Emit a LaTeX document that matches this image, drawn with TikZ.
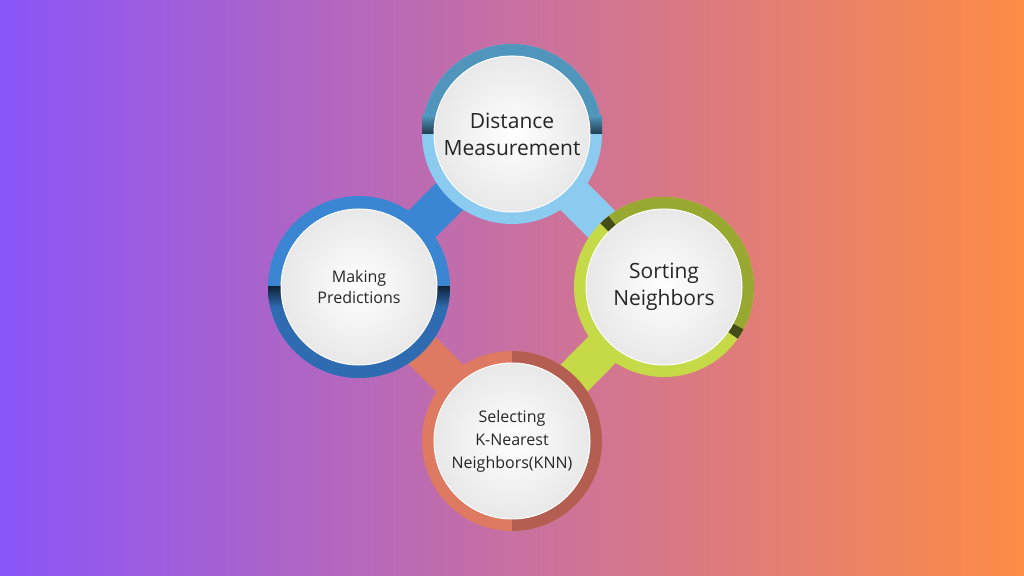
\documentclass[tikz,border=0pt]{standalone}
\usepackage{fontspec}
\setmainfont{Open Sans}
\definecolor{bgL}{HTML}{8A55F8}
\definecolor{bgM}{HTML}{C870A2}
\definecolor{bgR}{HTML}{FD8C46}
\definecolor{tA}{HTML}{4F95BC}
\definecolor{tB}{HTML}{8CCBF0}
\definecolor{lA}{HTML}{3A86D2}
\definecolor{lB}{HTML}{2E6BB0}
\definecolor{gA}{HTML}{C6DA48}
\definecolor{gB}{HTML}{98A830}
\definecolor{oA}{HTML}{DE7A62}
\definecolor{oB}{HTML}{B35E50}
\tikzset{
  band/.style={line width=38pt},
  disc/.style={circle,minimum size=156pt,inner sep=0pt,align=center,
    inner color=white,outer color=black!9,draw=white,line width=1pt,text=black!85},
  big/.style={font=\fontsize{21}{27}\selectfont},
  small/.style={font=\fontsize{16}{21}\selectfont}
}
\begin{document}
\begin{tikzpicture}[x=1pt,y=1pt]
\useasboundingbox (0,0) rectangle (1024,575);
\shade[left color=bgL,right color=bgR,middle color=bgM] (0,0) rectangle (1024,575);
\coordinate (T) at (512,441);
\coordinate (L) at (359,288);
\coordinate (R) at (664,288);
\coordinate (B) at (512,134);
% connectors
\draw[band,lA] (T) -- (L);
\draw[band,tB] (T) -- (R);
\draw[band,gA] (R) -- (B);
\draw[band,oA] (B) -- (L);
% top ring
\fill[tB] (T) circle (90);
\fill[tA] (T) -- ++(0:90) arc (0:180:90) -- cycle;
\begin{scope}
\clip (T) ++(-90,0) rectangle ++(180,18);
\shade[top color=tA,bottom color=tA!40!black] (T) ++(-90,0) rectangle ++(180,18);
\end{scope}
% left ring
\fill[lA] (L) circle (91);
\fill[lB] (L) -- ++(0:91) arc (0:-180:91) -- cycle;
\begin{scope}
\clip (L) circle (91);
\shade[bottom color=lB,top color=lB!35!black] (L) ++(-91,-20) rectangle ++(182,20);
\end{scope}
% right ring
\fill[gA] (R) circle (90);
\fill[gB] (R) -- ++(135:90) arc (135:-35:90) -- cycle;
\fill[gB!45!black] (R) -- ++(135:90) arc (135:128:90) -- cycle;
\fill[gB!45!black] (R) -- ++(-28:90) arc (-28:-35:90) -- cycle;
% bottom ring
\fill[oA] (B) circle (90);
\fill[oB] (B) -- ++(90:90) arc (90:-90:90) -- cycle;
% discs
\node[disc,big] (t) at (T) {Distance\\Measurement};
\node[disc,small] (l) at (L) {Making\\Predictions};
\node[disc,big] (r) at (R) {Sorting\\Neighbors};
\node[disc,small,font=\fontsize{16}{23}\selectfont] (b) at (B) {Selecting\\K-Nearest\\Neighbors(KNN)};
\end{tikzpicture}
\end{document}
